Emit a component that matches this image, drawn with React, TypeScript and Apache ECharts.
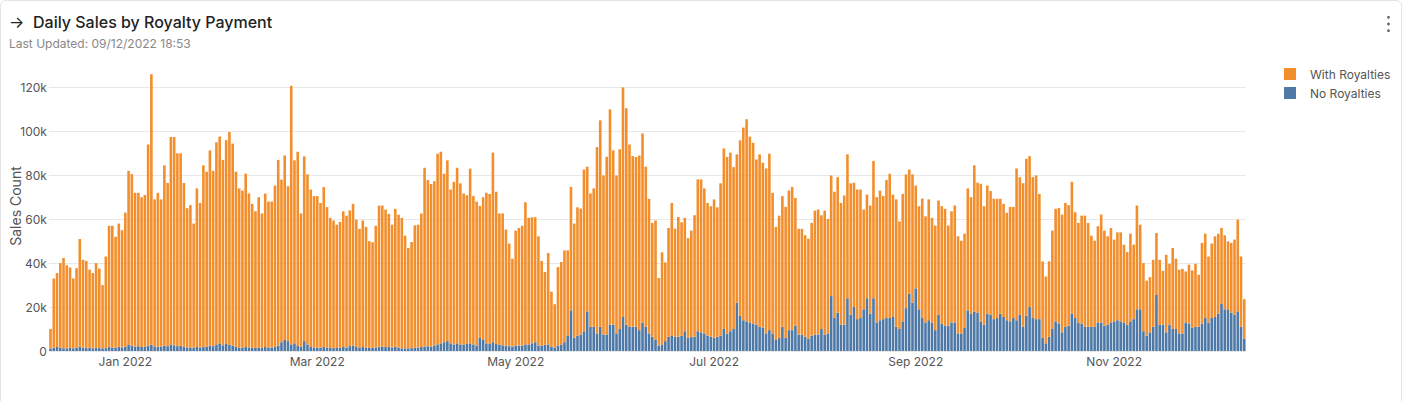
import React, { useEffect, useRef } from 'react';
import * as echarts from 'echarts';

// ---- data (values in thousands of sales) ----
const START_DATE = '2021-12-09';
const TICK_LABEL_DATES = ['2022-01-01', '2022-03-01', '2022-05-01', '2022-07-01', '2022-09-01', '2022-11-01'];
const MONTH_NAMES = ['Jan', 'Feb', 'Mar', 'Apr', 'May', 'Jun', 'Jul', 'Aug', 'Sep', 'Oct', 'Nov', 'Dec'];
const SERIES_NAMES = ['With Royalties', 'No Royalties'];
const Y_MAX = 132;
const Y_INTERVAL = 20;

// total daily sales (height of the stacked bar)
const totalSales = [
  10, 33, 35.5, 40, 42.3, 39, 38, 33, 37.7, 51,
  41.5, 41, 37, 35.5, 40, 37.5, 30, 43, 57, 57,
  52, 58, 55, 63, 82, 80.5, 72, 72, 70, 71,
  94, 126, 69, 72, 69, 84.5, 76.5, 97.4, 97.4, 90,
  90, 76.5, 65, 66.4, 58, 74, 67.4, 84.5, 81.6, 91.3,
  82, 95, 97.6, 87, 96, 99.7, 94.4, 81.6, 74, 73,
  80.7, 71.7, 67, 63.6, 70, 62.6, 71.7, 68, 68, 75.3,
  87, 78, 89, 75, 120.7, 86.8, 90.7, 62.6, 88.6, 80.4,
  73.5, 70.5, 70.5, 67.4, 74.6, 65.5, 60.6, 59.4, 57.5, 58.8,
  63.6, 61.6, 64, 67, 59.8, 55.6, 59.4, 56.5, 50, 49.5,
  57, 66.2, 66.2, 64.4, 62.4, 57.5, 64.7, 62, 60.6, 52.5,
  46.9, 49.6, 57.2, 57.5, 62.6, 83.4, 77.8, 76, 77.3, 89.8,
  90.7, 80.7, 86.8, 73.5, 77, 83.4, 76.3, 71.7, 70.9, 83,
  70.5, 68, 66, 70, 72, 71.5, 90.3, 72.5, 62.6, 62.6,
  55.3, 48.9, 42, 54.8, 56, 57, 67.7, 60.6, 60.9, 60.9,
  52.2, 41, 36, 44.6, 27, 21.3, 38.2, 40.5, 45.8, 45.8,
  74.7, 58, 65.4, 64.8, 82.6, 83.9, 71.7, 74, 92.8, 105,
  79.9, 88.4, 110, 91.3, 79.9, 91.8, 120, 110.5, 94, 88.7,
  88.3, 89, 99, 83.9, 69.3, 58.3, 59.4, 33.2, 44.9, 40.3,
  56, 67.4, 55.7, 61, 58.6, 60.6, 51.4, 54.8, 61.8, 78.1,
  78.1, 74, 67.4, 65.9, 69, 65.4, 76.3, 92.2, 88.3, 90.3,
  83.7, 89.5, 95.9, 101.7, 105.5, 97.6, 94.8, 87.2, 89.5, 85.7,
  83.1, 89.8, 72, 56.5, 61.6, 70.5, 65.6, 73.1, 74.7, 69.7,
  55.6, 55.6, 52.7, 51.1, 58.3, 63.9, 64.4, 61.8, 63.9, 60.1,
  79.9, 72.5, 79.1, 67.4, 70.8, 89.5, 76.3, 76.6, 73.5, 73.5,
  64.4, 71.2, 66.2, 86.5, 70, 73, 70.5, 77.8, 80.7, 71.2,
  69, 59, 71.5, 80.4, 82.6, 80.4, 75.3, 65.9, 69.4, 61.3,
  69, 60.6, 57.1, 68.5, 65.9, 64.7, 57.1, 63.6, 66.2, 52.2,
  50.2, 53.4, 74, 70, 84.5, 76.6, 76.1, 65.9, 75.3, 72.8,
  69.3, 69.3, 69.3, 67, 62.9, 65.6, 65.6, 83.1, 79.1, 76.3,
  87.5, 88.7, 79.1, 79.9, 71.5, 40.8, 33.9, 40.8, 54.8, 64.7,
  65.1, 62.1, 67.4, 66.4, 77, 63.2, 58.3, 61.6, 61.6, 58.3,
  52.5, 50.2, 56.8, 62.1, 54.8, 52.2, 56, 50.7, 54, 54,
  48.4, 45, 53.4, 48.4, 66.2, 57.5, 40, 32, 33.6, 41.5,
  53.7, 41.5, 36.5, 43.8, 39.7, 46.9, 42, 37, 37.4, 36.2,
  39.3, 36.7, 39.7, 34.7, 49.2, 53.4, 43, 48.9, 52.2, 53.4,
  56, 52.7, 49.9, 49.2, 50.7, 59.8, 43, 23.6,
];

// sales without royalties (bottom, blue)
const noRoyalties = [
  1, 1.5, 1.8, 1.5, 1.3, 1.2, 1.5, 1.2, 1.5, 2,
  1.5, 1.3, 1.5, 1.2, 1.4, 1.3, 1.2, 1.3, 1.8, 1.5,
  1.5, 2, 1.6, 2, 3, 2.5, 2, 2.2, 1.8, 2,
  2.5, 2.8, 1.8, 2, 2, 2.5, 2.2, 3, 2.6, 2.2,
  2.4, 2, 1.6, 1.6, 1.5, 1.8, 1.6, 1.8, 2, 2.4,
  2.2, 3, 3.5, 2.6, 3.2, 2.8, 2.4, 2, 1.6, 1.5,
  1.8, 1.6, 1.5, 1.4, 1.6, 1.4, 1.8, 1.6, 1.6, 2,
  2.5, 4, 5, 4.5, 3, 3.5, 2.5, 2, 4.5, 3,
  1.8, 1.6, 1.5, 1.5, 1.8, 1.5, 1.4, 1.3, 1.4, 1.5,
  1.8, 1.6, 2.2, 2.5, 1.8, 1.6, 1.8, 1.6, 1.4, 1.4,
  1.6, 2, 2, 1.8, 1.8, 1.6, 2, 1.5, 1.2, 1.2,
  1.2, 1.3, 1.5, 1.6, 1.8, 2, 2.2, 2, 2.5, 3,
  3.5, 4, 4.5, 3.5, 3, 3.5, 2.8, 3, 3.2, 3.5,
  3, 2.5, 6, 5, 3.5, 3.2, 4, 3.2, 2.8, 2.6,
  2.5, 2.2, 2, 2.5, 2.5, 2.5, 3, 3, 3.5, 4,
  2.5, 2.5, 2.8, 3, 2, 1.5, 2.5, 3, 4, 7,
  18.5, 6, 7, 7.5, 9, 18, 11, 11, 8, 11,
  7.5, 7.5, 12, 12, 8, 10, 15.5, 12, 11, 11,
  11, 9.5, 13, 11, 8, 6.5, 5, 2.5, 3, 4.5,
  6.5, 7, 6.5, 6.5, 7, 9, 6, 6.5, 6.5, 9,
  8.5, 8, 7, 6.5, 6, 6.5, 7, 10, 8, 9,
  10, 22, 16, 14, 13.5, 13, 12.5, 12, 11, 10.5,
  8, 9.5, 8, 5, 6, 11, 6, 9.5, 9.5, 11.5,
  7.5, 7.5, 6.5, 5.5, 7, 7.5, 7.5, 10, 7.5, 8,
  25, 15, 17.5, 12, 12, 24, 16.5, 20, 14.5, 15,
  19, 24, 17, 24, 13, 14, 14.5, 15, 15, 15.5,
  11, 10, 13.5, 19.5, 26, 22, 28.5, 19, 15, 13,
  14, 13, 9.5, 16.5, 12.5, 11.5, 11.5, 13, 13, 8,
  8, 10.5, 18.5, 17, 18, 17.5, 13.5, 12, 17, 16.5,
  14.5, 15, 17, 15.5, 14, 13.5, 15, 14, 16.5, 11,
  16, 20, 15, 14.5, 14.5, 6, 3.5, 6.5, 10, 13.5,
  12.5, 8.5, 11, 11.5, 17, 15, 13, 12.5, 11, 11,
  11, 11, 13, 13, 11.5, 12, 13, 13.5, 14, 13.5,
  13, 12, 13.5, 14.5, 19, 19, 9, 7, 8.5, 11,
  25.5, 12, 12, 8.5, 12, 10, 10, 8, 8, 13,
  12.5, 10.5, 11, 11, 12.5, 15, 13, 15, 15.5, 17,
  21.5, 19, 19, 17.5, 16.5, 18, 11, 5.5,
];

// orange segment = bar total minus the blue part
const withRoyalties = totalSales.map((t, i) => Math.round((t - noRoyalties[i]) * 10) / 10);

function buildDates(start: string, count: number): string[] {
  const [y, m, d] = start.split('-').map(Number);
  const base = Date.UTC(y, m - 1, d);
  const out: string[] = [];
  for (let i = 0; i < count; i++) {
    out.push(new Date(base + i * 86400000).toISOString().slice(0, 10));
  }
  return out;
}

const categories = buildDates(START_DATE, totalSales.length);
const tickSet = new Set(TICK_LABEL_DATES);

const ORANGE = '#F28E2B';
const BLUE = '#4E79A7';
const FONT = 'Inter, "Noto Sans", sans-serif';

export default function App() {
  const ref = useRef<HTMLDivElement>(null);

  useEffect(() => {
    if (!ref.current) return;
    const chart = echarts.init(ref.current, null, { renderer: 'svg' });
    chart.setOption({
      animation: false,
      backgroundColor: 'transparent',
      textStyle: { fontFamily: FONT },
      graphic: [
        { type: 'text', x: 9, y: 22, style: { text: '→', fontSize: 16, fontFamily: FONT, fill: '#222', verticalAlign: 'middle' } },
        { type: 'text', x: 33, y: 22, style: { text: 'Daily Sales by Royalty Payment', fontSize: 16, fontWeight: 500, fontFamily: FONT, fill: '#222', verticalAlign: 'middle' } },
        { type: 'text', x: 9, y: 43, style: { text: 'Last Updated: 09/12/2022 18:53', fontSize: 12, fontFamily: FONT, fill: '#888', verticalAlign: 'middle' } },
        { type: 'circle', shape: { cx: 1388.5, cy: 17.3, r: 1.4 }, style: { fill: '#666' } },
        { type: 'circle', shape: { cx: 1388.5, cy: 24, r: 1.4 }, style: { fill: '#666' } },
        { type: 'circle', shape: { cx: 1388.5, cy: 30.7, r: 1.4 }, style: { fill: '#666' } },
      ],
      legend: {
        data: SERIES_NAMES,
        orient: 'vertical',
        left: 1279,
        top: 63,
        itemWidth: 12,
        itemHeight: 12,
        itemGap: 7,
        icon: 'rect',
        selectedMode: false,
        textStyle: { fontSize: 12, color: '#555', fontFamily: FONT, padding: [0, 0, 0, 9] },
      },
      grid: { left: 48.9, right: 156.1, top: 61, bottom: 50, containLabel: false, outerBoundsMode: 'none' },
      xAxis: {
        type: 'category',
        data: categories,
        boundaryGap: true,
        axisLine: { show: false },
        axisTick: { show: false },
        axisLabel: {
          interval: (_i: number, value: string) => tickSet.has(value),
          formatter: (value: string) => {
            const [y, m] = value.split('-').map(Number);
            return `${MONTH_NAMES[m - 1]} ${y}`;
          },
          color: '#555',
          fontSize: 12,
          fontFamily: FONT,
          margin: 4,
        },
        splitLine: { show: false },
      },
      yAxis: {
        type: 'value',
        min: 0,
        max: Y_MAX,
        interval: Y_INTERVAL,
        name: 'Sales Count',
        nameLocation: 'middle',
        nameRotate: 90,
        nameGap: 26,
        nameMoveOverlap: false,
        nameTextStyle: { fontSize: 14, color: '#555', fontFamily: FONT },
        axisLine: { show: false },
        axisTick: { show: false },
        axisLabel: {
          formatter: (v: number) => (v === 0 ? '0' : `${v}k`),
          color: '#555',
          fontSize: 12,
          fontFamily: FONT,
          margin: 2,
          showMaxLabel: false,
        },
        splitLine: { show: true, showMaxLine: false, lineStyle: { color: '#e8e8e8', width: 1 } },
      },
      series: [
        {
          name: 'No Royalties',
          type: 'bar',
          stack: 'sales',
          data: noRoyalties,
          barCategoryGap: '20%',
          itemStyle: { color: BLUE },
          emphasis: { disabled: true },
        },
        {
          name: 'With Royalties',
          type: 'bar',
          stack: 'sales',
          data: withRoyalties,
          barCategoryGap: '20%',
          itemStyle: { color: ORANGE },
          emphasis: { disabled: true },
        },
      ],
    });
    return () => chart.dispose();
  }, []);

  return (
    <div style={{ position: 'fixed', left: 0, top: 0, width: 1402, height: 401, background: '#fff', overflow: 'hidden' }}>
      <div
        style={{
          position: 'absolute',
          left: 0,
          top: 0,
          width: 1402,
          height: 440,
          boxSizing: 'border-box',
          border: '1px solid #e3e3e3',
          borderRadius: 6,
        }}
      />
      <div ref={ref} style={{ position: 'absolute', left: 0, top: 0, width: 1402, height: 401 }} />
    </div>
  );
}
